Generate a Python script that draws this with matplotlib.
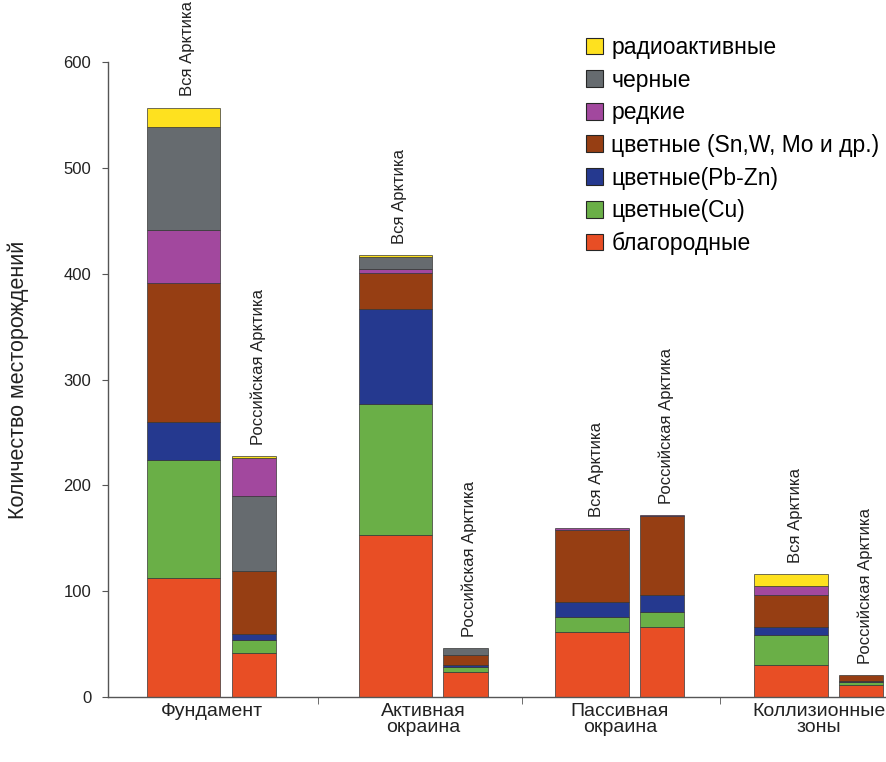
import numpy as np
import matplotlib.pyplot as plt
from matplotlib.patches import Patch

plt.rcParams['font.family'] = ['Liberation Sans', 'DejaVu Sans']

# -----------------------
# data
# -----------------------

regions = ['Фундамент', 'Активная\nокраина', 'Пассивная\nокраина', 'Коллизионные\nзоны']
bar_labels = ['Вся Арктика', 'Российская Арктика']

# per bar: Ф-вся, Ф-рос, А-вся, А-рос, П-вся, П-рос, К-вся, К-рос
blagorodnye = [112, 42, 153, 24, 61, 66, 30, 11]
tsvet_cu = [112, 12, 124, 4, 15, 14, 29, 3]
tsvet_pbzn = [36, 6, 90, 2, 14, 16, 7, 1]
tsvet_snwmo = [131, 59, 34, 10, 68, 75, 30, 6]
redkie = [50, 36, 3, 0, 2, 1, 9, 0]
chernye = [98, 71, 12, 6, 0, 0, 0, 0]
radioakt = [18, 2, 2, 0, 0, 0, 11, 0]

names = ['благородные', 'цветные(Cu)', 'цветные(Pb-Zn)', 'цветные (Sn,W, Mo и др.)',
         'редкие', 'черные', 'радиоактивные']
colors = ['#E84E25', '#6AAF47', '#25398F', '#963E13', '#A2489E', '#666B6F', '#FEE11F']
series = [blagorodnye, tsvet_cu, tsvet_pbzn, tsvet_snwmo, redkie, chernye, radioakt]

# stacking order (bar 1 has черные under редкие)
default_order = [0, 1, 2, 3, 4, 5, 6]
order_override = {1: [0, 1, 2, 3, 5, 4, 6]}

# -----------------------
# layout
# -----------------------

group_x = [0, 1.04, 2.01, 2.99]
offsets = [-0.138, 0.209]
widths = [0.36, 0.217]
edge = (0.2, 0.2, 0.2, 0.7)

fig = plt.figure(figsize=(8.87, 7.62), dpi=100)
ax = fig.add_axes([108 / 887, 65 / 762, 1 - 108 / 887, 635 / 762])

for b in range(len(blagorodnye)):
    g, kind = divmod(b, 2)
    x = group_x[g] + offsets[kind]
    bottom = 0
    for s in order_override.get(b, default_order):
        v = series[s][b]
        if v <= 0:
            continue
        ax.bar(x, v, widths[kind], bottom=bottom, color=colors[s],
               edgecolor=edge, linewidth=0.7)
        bottom += v
    ax.annotate(bar_labels[kind], (x + 0.02, bottom), xytext=(0, 8),
                textcoords='offset points', rotation=90, ha='center',
                va='bottom', fontsize=12, color='#222222')

ax.set_xlim(-0.512, 3.325)
ax.set_ylim(0, 600)
ax.set_yticks(np.arange(0, 601, 100))
ax.set_xticks(group_x)
ax.set_xticklabels(regions, fontsize=14, linespacing=0.95, color='#222222')
ax.set_xticks([0.52, 1.525, 2.5], minor=True)
ax.tick_params(axis='x', which='major', length=0, pad=4)
ax.tick_params(axis='x', which='minor', length=5, direction='out', color='#555555')
ax.tick_params(axis='y', length=4, direction='out', pad=8, labelsize=12,
               color='#555555', labelcolor='#222222')

for sp in ('top', 'right'):
    ax.spines[sp].set_visible(False)
for sp in ('left', 'bottom'):
    ax.spines[sp].set_color('#555555')
    ax.spines[sp].set_linewidth(1.0)

ax.set_ylabel('Количество месторождений', fontsize=15.5, color='#222222', labelpad=25)

handles = [Patch(facecolor=colors[i], edgecolor=(0.15, 0.15, 0.15), linewidth=0.8)
           for i in reversed(range(len(names)))]
fig.legend(handles, list(reversed(names)), loc='upper left',
           bbox_to_anchor=(586 / 887, 1 - 36 / 762), frameon=False, fontsize=16.5,
           handlelength=0.75, handleheight=0.75, handletextpad=0.35,
           labelspacing=0.42, borderpad=0, borderaxespad=0)

fig.savefig('out.png', dpi=100)
